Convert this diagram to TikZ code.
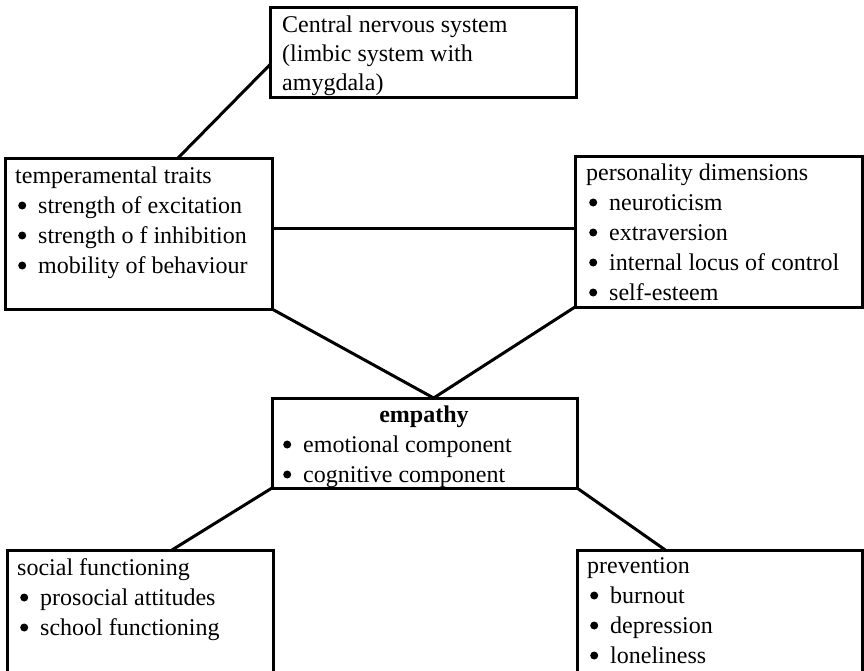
\documentclass[tikz,border=0pt]{standalone}
\usepackage{fontspec}
\setmainfont{Liberation Serif}
\usetikzlibrary{calc}
\newcommand{\bul}{\hspace*{3pt}\makebox[20pt][l]{\tikz[x=1pt,y=1pt,baseline=0pt]\fill[black] (4,7.5) circle (4);}}
\newcommand{\txt}[2]{\parbox[t]{#1}{\raggedright #2}}
\begin{document}
\begin{tikzpicture}[x=1pt,y=-1pt,
  box/.style={draw, line width=3pt, rectangle, anchor=north west, inner sep=0pt, outer sep=0pt},
  lbl/.style={anchor=base west, inner sep=0pt, font=\fontsize{24}{30}\selectfont},
  conn/.style={line width=3pt}]
\path[use as bounding box] (0,0) rectangle (864,670);
\clip (0,0) rectangle (864,670);
\fill[white] (0,0) rectangle (864,670);
% boxes
\node[box, minimum width=306pt, minimum height=90pt] (cns) at (270,7) {};
\node[box, minimum width=267pt, minimum height=151pt] (temp) at (5,158) {};
\node[box, minimum width=287pt, minimum height=151pt] (pers) at (575,156) {};
\node[box, minimum width=305pt, minimum height=90pt] (emp) at (272,398) {};
\node[box, minimum width=266pt, minimum height=130pt] (soc) at (7,550) {};
\node[box, minimum width=285pt, minimum height=130pt] (prev) at (577,550) {};
% texts
\node[lbl, font=\fontsize{24}{29}\selectfont] (cnst) at (282,32) {\txt{290pt}{Central nervous system\\(limbic system with\\amygdala)}};
\node[lbl] (tempt) at (15,183) {\txt{260pt}{temperamental traits\\\bul strength of excitation\\\bul strength o f inhibition\\\bul mobility of behaviour}};
\node[lbl] (perst) at (586,180) {\txt{275pt}{personality dimensions\\\bul neuroticism\\\bul extraversion\\\bul internal locus of control\\\bul self-esteem}};
\node[lbl, anchor=base] (empt) at (424,422) {\textbf{empathy}};
\node[lbl] (empl) at (280,452) {\txt{290pt}{\bul emotional component\\\bul cognitive component}};
\node[lbl] (soct) at (17,575) {\txt{255pt}{social functioning\\\bul prosocial attitudes\\\bul school functioning}};
\node[lbl] (prevt) at (587,573) {\txt{270pt}{prevention\\\bul burnout\\\bul depression\\\bul loneliness}};
% connectors
\coordinate (c1) at ($(cns.north west)!0.64!(cns.south west)$);
\coordinate (c2) at ($(temp.north west)!0.648!(temp.north east)$);
\draw[conn] (c1) -- (c2);
\coordinate (h1) at ($(temp.north east)!0.47!(temp.south east)$);
\draw[conn] (h1) -- (h1 -| pers.west);
\coordinate (etop) at ($(emp.north west)!0.53!(emp.north east)$);
\draw[conn] (temp.south east) -- (etop) -- (pers.south west);
\coordinate (s1) at ($(soc.north west)!0.62!(soc.north east)$);
\draw[conn] (emp.south west) -- (s1);
\coordinate (p1) at ($(prev.north west)!0.31!(prev.north east)$);
\draw[conn] (emp.south east) -- (p1);
\end{tikzpicture}
\end{document}
